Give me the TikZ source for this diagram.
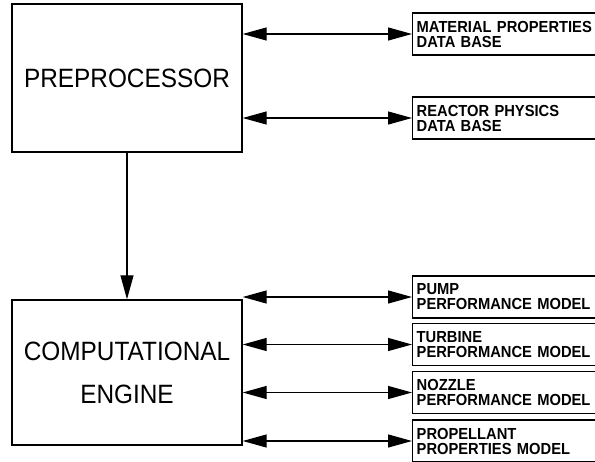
\documentclass[tikz,border=0pt]{standalone}
\usepackage{fontspec}
\setmainfont{Liberation Sans}
\newfontfamily\plotfont[FakeStretch=0.92]{Liberation Sans}
\usetikzlibrary{arrows.meta,positioning}
\tikzset{
  bigbox/.style={rectangle, draw, line width=1.4pt, minimum width=230pt, inner sep=0pt, align=center, font=\plotfont\fontsize{26.5}{43}\selectfont},
  dbbox/.style={rectangle, draw, line width=1.4pt, anchor=west, minimum height=42pt, text width=190pt, inner xsep=4pt, inner ysep=0pt, align=left, font=\plotfont\bfseries\fontsize{16}{15}\selectfont},
  link/.style={{Triangle[length=24pt,width=13pt]}-{Triangle[length=24pt,width=13pt]}, line width=1.2pt},
  flow/.style={-{Triangle[length=24pt,width=13pt]}, line width=1.2pt},
}

\begin{document}
\begin{tikzpicture}[x=1pt,y=-1pt]
  \useasboundingbox (0,0) rectangle (595,461);
  \clip (0,0) rectangle (595,461);
  \node[bigbox, minimum height=148pt] (pre) at (127,78) {PREPROCESSOR};
  \node[bigbox, minimum height=145pt] (eng) at (127,372.5) {COMPUTATIONAL\\ENGINE};
  \draw[flow] (pre.south) -- (eng.north);
  % data bases on the preprocessor side
  \node[dbbox] (mat) at (412,34) {MATERIAL PROPERTIES\\DATA BASE};
  \node[dbbox] (phys) at (412,118) {REACTOR PHYSICS\\DATA BASE};
  \foreach \nm in {mat, phys} \draw[link] (pre.east |- \nm.west) -- (\nm.west);
  % component models on the engine side
  \foreach \nm/\y/\txt in {pump/297/{PUMP\\PERFORMANCE MODEL}, turb/344.5/{TURBINE\\PERFORMANCE MODEL},
      nozz/392.5/{NOZZLE\\PERFORMANCE MODEL}, prop/441/{PROPELLANT\\PROPERTIES MODEL}} {
    \node[dbbox] (\nm) at (412,\y) {\txt};
    \draw[link] (eng.east |- \nm.west) -- (\nm.west);
  }
\end{tikzpicture}
\end{document}
